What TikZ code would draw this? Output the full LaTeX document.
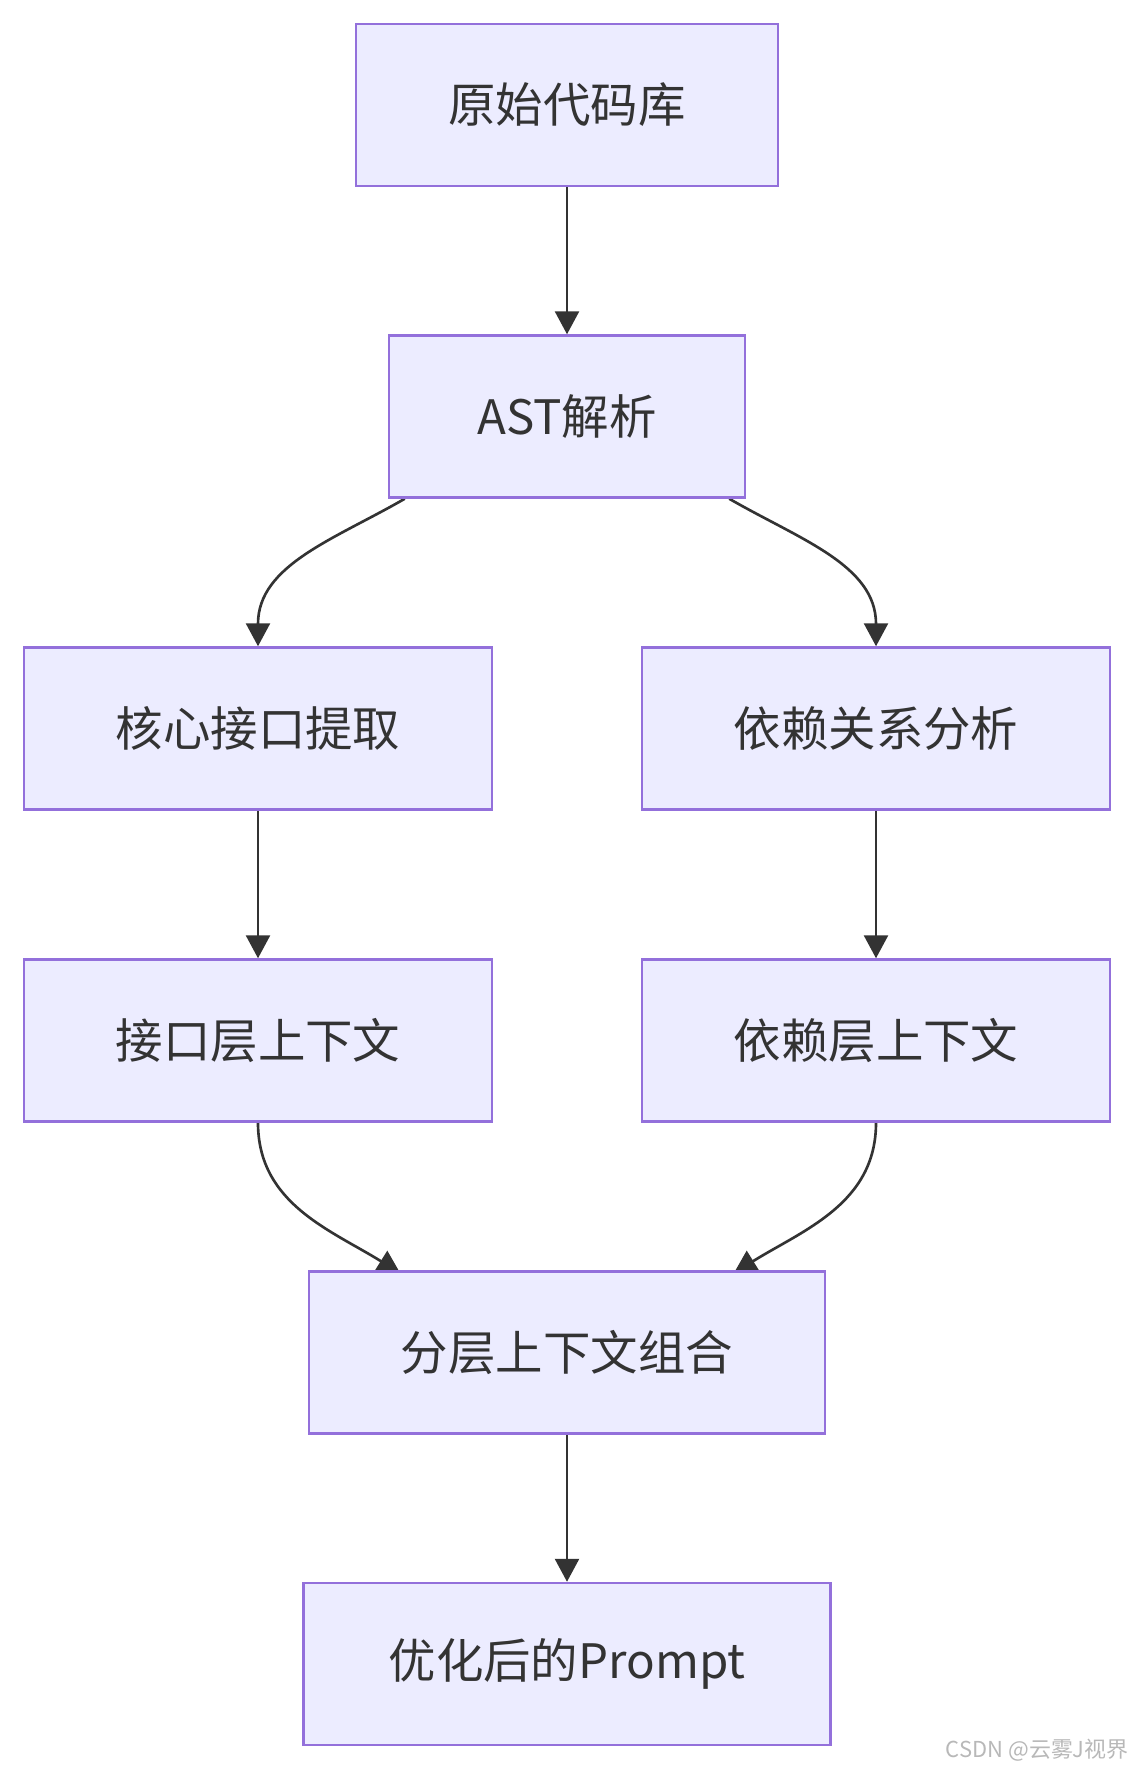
\documentclass[tikz,border=0pt]{standalone}
\usepackage{fontspec}
\setmainfont{Noto Sans CJK SC}
\usetikzlibrary{arrows.meta, positioning, backgrounds}
\definecolor{BoxFill}{HTML}{ECECFF}
\definecolor{BoxLine}{HTML}{9370DB}
\definecolor{Ink}{HTML}{333333}
\definecolor{Mark}{HTML}{B8B8B8}
\tikzset{
    flowbox/.style={rectangle, draw=BoxLine, fill=BoxFill, line width=1.4pt, text=Ink, minimum height=3.24cm, inner sep=0pt, font=\fontsize{27}{32}\selectfont},
    flow/.style={-{Triangle[width=0.48cm, length=0.46cm]}, line width=1.5pt, color=Ink},
}

\begin{document}
\begin{tikzpicture}
    \useasboundingbox (0,0) rectangle (22.68,-35.4);

    % Quelle und Parser
    \node[flowbox, minimum width=8.44cm] (repo) at (11.34,-2.10) {原始代码库};
    \node[flowbox, minimum width=7.12cm] (ast) at (11.34,-8.33) {AST解析};

    % Zwei Zweige
    \node[flowbox, minimum width=9.36cm] (core) at (5.16,-14.57) {核心接口提取};
    \node[flowbox, minimum width=9.36cm] (deps) at (17.52,-14.57) {依赖关系分析};
    \node[flowbox, minimum width=9.36cm] (ifctx) at (5.16,-20.81) {接口层上下文};
    \node[flowbox, minimum width=9.36cm] (depctx) at (17.52,-20.81) {依赖层上下文};

    % Zusammenfuehrung
    \node[flowbox, minimum width=10.32cm] (merge) at (11.34,-27.05) {分层上下文组合};
    \node[flowbox, minimum width=10.54cm] (prompt) at (11.34,-33.28) {优化后的Prompt};

    % Wasserzeichen
    \node[anchor=east, text=Mark, font=\fontsize{12.5}{15}\selectfont, inner sep=0pt] (mark) at (22.58,-35.0) {CSDN @云雾J视界};

    % Pfeile (hinter den Kaesten)
    \begin{scope}[on background layer]
        \draw[flow] (repo) -- (ast);
        \draw[flow] ([xshift=0.34cm]ast.south west) to[out=210, in=90] (core.north);
        \draw[flow] ([xshift=-0.34cm]ast.south east) to[out=-30, in=90] (deps.north);
        \draw[flow] (core) -- (ifctx);
        \draw[flow] (deps) -- (depctx);
        \draw[flow] (ifctx.south) to[out=-90, in=148] ([xshift=1.85cm, yshift=-0.06cm]merge.north west);
        \draw[flow] (depctx.south) to[out=-90, in=32] ([xshift=-1.85cm, yshift=-0.06cm]merge.north east);
        \draw[flow] (merge) -- (prompt);
    \end{scope}
\end{tikzpicture}
\end{document}
